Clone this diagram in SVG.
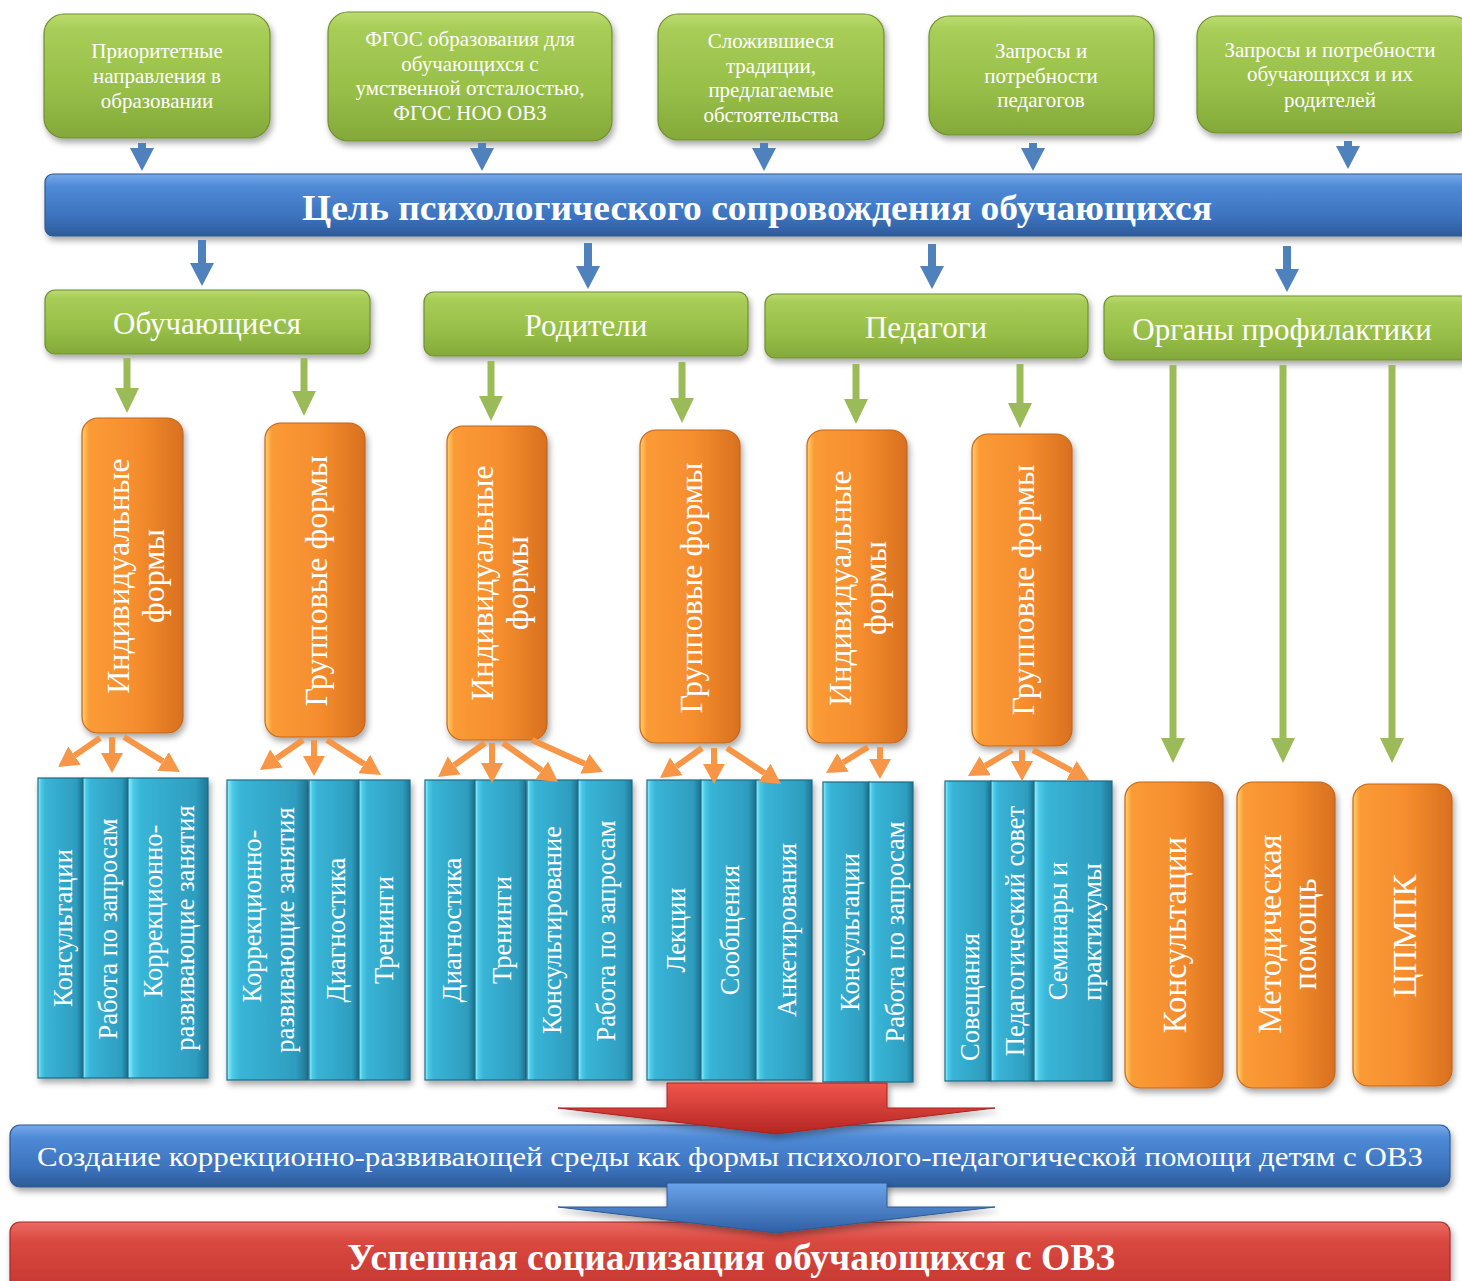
<svg xmlns="http://www.w3.org/2000/svg" width="1462" height="1281" viewBox="0 0 1462 1281">
<defs>
<linearGradient id="gGreen" x1="0" y1="0" x2="0" y2="1"><stop offset="0" stop-color="#bcdc70"/><stop offset="0.12" stop-color="#a8cd58"/><stop offset="0.6" stop-color="#97bf48"/><stop offset="1" stop-color="#84a93a"/></linearGradient>
<linearGradient id="gBlue" x1="0" y1="0" x2="0" y2="1"><stop offset="0" stop-color="#78a9ea"/><stop offset="0.2" stop-color="#4f8ad6"/><stop offset="0.7" stop-color="#3c72bd"/><stop offset="1" stop-color="#2d5b98"/></linearGradient>
<linearGradient id="gRed" x1="0" y1="0" x2="0" y2="1"><stop offset="0" stop-color="#ec6a63"/><stop offset="0.25" stop-color="#d9483f"/><stop offset="1" stop-color="#c0332d"/></linearGradient>
<linearGradient id="gOrange" x1="0" y1="0" x2="1" y2="0"><stop offset="0" stop-color="#ffd06c"/><stop offset="0.07" stop-color="#fb9b36"/><stop offset="0.55" stop-color="#f58d2e"/><stop offset="1" stop-color="#d8701f"/></linearGradient>
<linearGradient id="gTeal" x1="0" y1="0" x2="1" y2="0"><stop offset="0" stop-color="#92f2ff"/><stop offset="0.07" stop-color="#4ccae8"/><stop offset="0.16" stop-color="#39b5d7"/><stop offset="0.85" stop-color="#2e9dbf"/><stop offset="1" stop-color="#1e7693"/></linearGradient>
<linearGradient id="gRedArrow" x1="0" y1="0" x2="0" y2="1"><stop offset="0" stop-color="#f0554c"/><stop offset="1" stop-color="#b52523"/></linearGradient>
<linearGradient id="gBlueArrow" x1="0" y1="0" x2="0" y2="1"><stop offset="0" stop-color="#6aa3ea"/><stop offset="1" stop-color="#2e5fa4"/></linearGradient>
<filter id="sh" x="-10%" y="-10%" width="130%" height="130%"><feDropShadow dx="2" dy="4" stdDeviation="3" flood-color="#000" flood-opacity="0.35"/></filter>
<marker id="mBlue" markerUnits="userSpaceOnUse" markerWidth="24" markerHeight="26" viewBox="0 -13 24 26" refX="0" refY="0" orient="auto"><path d="M0,-12 L23,0 L0,12 Z" fill="#4f81bd"/></marker>
<marker id="mGreen" markerUnits="userSpaceOnUse" markerWidth="26" markerHeight="26" viewBox="0 -13 26 26" refX="0" refY="0" orient="auto"><path d="M0,-12 L25,0 L0,12 Z" fill="#9bbb59"/></marker>
<marker id="mOrange" markerUnits="userSpaceOnUse" markerWidth="22" markerHeight="24" viewBox="0 -12 22 24" refX="0" refY="0" orient="auto"><path d="M0,-11 L20,0 L0,11 Z" fill="#f79646"/></marker>
<style>
.green{fill:url(#gGreen);stroke:#6f8f2e;stroke-width:1.2;filter:url(#sh)}
.blue{fill:url(#gBlue);stroke:#2c5a90;stroke-width:1.2;filter:url(#sh)}
.red{fill:url(#gRed);stroke:#a52a26;stroke-width:1.2;filter:url(#sh)}
.orange{fill:url(#gOrange);stroke:#c4661a;stroke-width:1.2;filter:url(#sh)}
.teal{fill:url(#gTeal);stroke:#1d6c86;stroke-width:1.2;filter:url(#sh)}
text{font-family:"Liberation Serif","Times New Roman",serif;fill:#ffffff;text-anchor:middle}
.t20{font-size:21px}
.t29{font-size:31px}
.t30{font-size:32px}
.t33{font-size:33px}
.t23{font-size:26.5px}
.ab{stroke:#4f81bd;stroke-width:8;fill:none;marker-end:url(#mBlue)}
.ag{stroke:#9bbb59;stroke-width:7;fill:none;marker-end:url(#mGreen)}
.ao{stroke:#f79646;stroke-width:6;fill:none;marker-end:url(#mOrange)}
</style>
</defs>
<rect width="1462" height="1281" fill="#ffffff"/>

<!-- top source boxes -->
<g id="src1"><rect class="green" x="44" y="14" width="226" height="124" rx="20"/>
<text class="t20" x="157" y="58">Приоритетные</text><text class="t20" x="157" y="83">направления в</text><text class="t20" x="157" y="108">образовании</text></g>
<g id="src2"><rect class="green" x="328" y="12" width="284" height="129" rx="20"/>
<text class="t20" x="470" y="46">ФГОС образования для</text><text class="t20" x="470" y="71">обучающихся с</text><text class="t20" x="470" y="95">умственной отсталостью,</text><text class="t20" x="470" y="120">ФГОС НОО ОВЗ</text></g>
<g id="src3"><rect class="green" x="658" y="14" width="226" height="126" rx="20"/>
<text class="t20" x="771" y="48">Сложившиеся</text><text class="t20" x="771" y="73">традиции,</text><text class="t20" x="771" y="97">предлагаемые</text><text class="t20" x="771" y="122">обстоятельства</text></g>
<g id="src4"><rect class="green" x="929" y="16" width="225" height="119" rx="20"/>
<text class="t20" x="1041" y="58">Запросы и</text><text class="t20" x="1041" y="83">потребности</text><text class="t20" x="1041" y="107">педагогов</text></g>
<g id="src5"><rect class="green" x="1197" y="16" width="275" height="117" rx="20"/>
<text class="t20" x="1330" y="57">Запросы и потребности</text><text class="t20" x="1330" y="81">обучающихся и их</text><text class="t20" x="1330" y="107">родителей</text></g>

<!-- goal bar -->
<g id="goal"><rect class="blue" x="45" y="174" width="1430" height="62" rx="8"/>
<text x="757" y="220" font-size="36" font-weight="bold" textLength="910" lengthAdjust="spacingAndGlyphs">Цель психологического сопровождения обучающихся</text></g>

<!-- categories -->
<g id="cat1"><rect class="green" x="45" y="290" width="325" height="64" rx="10"/><text class="t29" x="207" y="334">Обучающиеся</text></g>
<g id="cat2"><rect class="green" x="424" y="292" width="324" height="64" rx="10"/><text class="t29" x="586" y="336">Родители</text></g>
<g id="cat3"><rect class="green" x="765" y="294" width="323" height="64" rx="10"/><text class="t29" x="926" y="338">Педагоги</text></g>
<g id="cat4"><rect class="green" x="1104" y="296" width="370" height="64" rx="10"/><text class="t29" x="1282" y="340">Органы профилактики</text></g>

<!-- orange form boxes -->
<g id="form1"><rect class="orange" x="82" y="418" width="101" height="315" rx="16"/>
<text class="t30" transform="translate(118,576) rotate(-90)" y="11">Индивидуальные</text><text class="t30" transform="translate(153,576) rotate(-90)" y="11">формы</text></g>
<g id="form2"><rect class="orange" x="265" y="423" width="100" height="314" rx="16"/>
<text class="t30" transform="translate(316,581) rotate(-90)" y="11">Групповые формы</text></g>
<g id="form3"><rect class="orange" x="447" y="426" width="100" height="314" rx="16"/>
<text class="t30" transform="translate(482,583) rotate(-90)" y="11">Индивидуальные</text><text class="t30" transform="translate(517,583) rotate(-90)" y="11">формы</text></g>
<g id="form4"><rect class="orange" x="640" y="430" width="100" height="313" rx="16"/>
<text class="t30" transform="translate(691,588) rotate(-90)" y="11">Групповые формы</text></g>
<g id="form5"><rect class="orange" x="807" y="430" width="100" height="313" rx="16"/>
<text class="t30" transform="translate(840,588) rotate(-90)" y="11">Индивидуальные</text><text class="t30" transform="translate(875,588) rotate(-90)" y="11">формы</text></g>
<g id="form6"><rect class="orange" x="972" y="434" width="100" height="312" rx="16"/>
<text class="t30" transform="translate(1023,590) rotate(-90)" y="11">Групповые формы</text></g>

<!-- teal activity columns -->
<g id="a1"><rect class="teal" x="38" y="778" width="45" height="300"/><text class="t23" transform="translate(63,928) rotate(-90)" y="9">Консультации</text></g>
<g id="a2"><rect class="teal" x="83" y="778" width="45" height="300"/><text class="t23" transform="translate(108,929) rotate(-90)" y="9">Работа по запросам</text></g>
<g id="a3"><rect class="teal" x="128" y="778" width="80" height="300"/><text class="t23" transform="translate(153,911) rotate(-90)" y="9">Коррекционно-</text><text class="t23" transform="translate(185,928) rotate(-90)" y="9">развивающие занятия</text></g>
<g id="b1"><rect class="teal" x="227" y="780" width="81" height="300"/><text class="t23" transform="translate(252,916) rotate(-90)" y="9">Коррекционно-</text><text class="t23" transform="translate(285,930) rotate(-90)" y="9">развивающие занятия</text></g>
<g id="b2"><rect class="teal" x="309" y="780" width="50" height="300"/><text class="t23" transform="translate(336,930) rotate(-90)" y="9">Диагностика</text></g>
<g id="b3"><rect class="teal" x="359" y="780" width="51" height="300"/><text class="t23" transform="translate(384,930) rotate(-90)" y="9">Тренинги</text></g>
<g id="c1"><rect class="teal" x="425" y="780" width="50" height="300"/><text class="t23" transform="translate(452,930) rotate(-90)" y="9">Диагностика</text></g>
<g id="c2"><rect class="teal" x="475" y="780" width="51" height="300"/><text class="t23" transform="translate(502,930) rotate(-90)" y="9">Тренинги</text></g>
<g id="c3"><rect class="teal" x="527" y="780" width="51" height="300"/><text class="t23" transform="translate(552,930) rotate(-90)" y="9">Консультирование</text></g>
<g id="c4"><rect class="teal" x="578" y="780" width="54" height="300"/><text class="t23" transform="translate(606,931) rotate(-90)" y="9">Работа по запросам</text></g>
<g id="d1"><rect class="teal" x="647" y="780" width="54" height="300"/><text class="t23" transform="translate(676,930) rotate(-90)" y="9">Лекции</text></g>
<g id="d2"><rect class="teal" x="701" y="780" width="55" height="300"/><text class="t23" transform="translate(730,930) rotate(-90)" y="9">Сообщения</text></g>
<g id="d3"><rect class="teal" x="756" y="780" width="56" height="300"/><text class="t23" transform="translate(787,930) rotate(-90)" y="9">Анкетирования</text></g>
<g id="e1"><rect class="teal" x="823" y="782" width="46" height="300"/><text class="t23" transform="translate(850,932) rotate(-90)" y="9">Консультации</text></g>
<g id="e2"><rect class="teal" x="869" y="782" width="44" height="300"/><text class="t23" transform="translate(895,932) rotate(-90)" y="9">Работа по запросам</text></g>
<g id="f1"><rect class="teal" x="945" y="781" width="46" height="300"/><text class="t23" transform="translate(970,997) rotate(-90)" y="9">Совещания</text></g>
<g id="f2"><rect class="teal" x="991" y="781" width="43" height="300"/><text class="t23" transform="translate(1015,931) rotate(-90)" y="9">Педагогический совет</text></g>
<g id="f3"><rect class="teal" x="1034" y="781" width="78" height="300"/><text class="t23" transform="translate(1058,931) rotate(-90)" y="9">Семинары и</text><text class="t23" transform="translate(1092,932) rotate(-90)" y="9">практикумы</text></g>

<!-- prevention outcomes -->
<g id="p1"><rect class="orange" x="1125" y="782" width="98" height="306" rx="16"/><text class="t33" transform="translate(1175,935) rotate(-90)" y="11">Консультации</text></g>
<g id="p2"><rect class="orange" x="1237" y="782" width="98" height="306" rx="16"/><text class="t33" transform="translate(1270,934) rotate(-90)" y="11">Методическая</text><text class="t33" transform="translate(1305,934) rotate(-90)" y="11">помощь</text></g>
<g id="p3"><rect class="orange" x="1353" y="784" width="99" height="302" rx="16"/><text class="t33" transform="translate(1405,936) rotate(-90)" y="11">ЦПМПК</text></g>

<!-- result bars -->
<g id="env"><rect class="blue" x="10" y="1125" width="1440" height="62" rx="10"/>
<text x="730" y="1166" font-size="27" textLength="1386" lengthAdjust="spacingAndGlyphs">Создание коррекционно-развивающей среды как формы психолого-педагогической помощи детям с ОВЗ</text></g>
<g id="result"><rect class="red" x="10" y="1222" width="1440" height="80" rx="10"/>
<text x="731" y="1270" font-size="38" font-weight="bold" textLength="768" lengthAdjust="spacingAndGlyphs">Успешная социализация обучающихся с ОВЗ</text></g>

<!-- connectors -->
<g id="connectors">
<line class="ab" x1="142" y1="143" x2="142" y2="148"/>
<line class="ab" x1="482" y1="143" x2="482" y2="148"/>
<line class="ab" x1="764" y1="143" x2="764" y2="148"/>
<line class="ab" x1="1033" y1="143" x2="1033" y2="148"/>
<line class="ab" x1="1348" y1="141" x2="1348" y2="146"/>
<line class="ab" x1="202" y1="240" x2="202" y2="263"/>
<line class="ab" x1="588" y1="243" x2="588" y2="266"/>
<line class="ab" x1="932" y1="244" x2="932" y2="266"/>
<line class="ab" x1="1287" y1="246" x2="1287" y2="269"/>
<line class="ag" x1="127" y1="358" x2="127" y2="388"/>
<line class="ag" x1="304" y1="358" x2="304" y2="391"/>
<line class="ag" x1="491" y1="361" x2="491" y2="396"/>
<line class="ag" x1="682" y1="362" x2="682" y2="398"/>
<line class="ag" x1="856" y1="364" x2="856" y2="399"/>
<line class="ag" x1="1020" y1="364" x2="1020" y2="403"/>
<line class="ag" x1="1173" y1="365" x2="1173" y2="738"/>
<line class="ag" x1="1283" y1="365" x2="1283" y2="738"/>
<line class="ag" x1="1392" y1="365" x2="1392" y2="738"/>
<line class="ao" x1="100" y1="738" x2="74.5" y2="755.6"/>
<line class="ao" x1="112" y1="737" x2="112" y2="753"/>
<line class="ao" x1="124" y1="737" x2="163" y2="761.4"/>
<line class="ao" x1="303" y1="740" x2="276.4" y2="758.5"/>
<line class="ao" x1="314" y1="740" x2="314" y2="756"/>
<line class="ao" x1="327" y1="740" x2="364.2" y2="764.1"/>
<line class="ao" x1="485" y1="743" x2="454.2" y2="765.3"/>
<line class="ao" x1="492" y1="743" x2="492" y2="763"/>
<line class="ao" x1="503" y1="743" x2="541.7" y2="770.4"/>
<line class="ao" x1="532" y1="740" x2="584.8" y2="763.8"/>
<line class="ao" x1="702" y1="748" x2="676.3" y2="766.4"/>
<line class="ao" x1="714" y1="748" x2="714" y2="764"/>
<line class="ao" x1="727" y1="748" x2="764.4" y2="772.9"/>
<line class="ao" x1="868" y1="747" x2="843" y2="762.5"/>
<line class="ao" x1="880" y1="747" x2="880" y2="759"/>
<line class="ao" x1="1012" y1="750" x2="985.2" y2="765.8"/>
<line class="ao" x1="1022" y1="750" x2="1022" y2="761"/>
<line class="ao" x1="1033" y1="750" x2="1071.4" y2="770.6"/>
<polygon points="667,1083 887,1083 887,1108 995,1108 776,1134 558,1108 667,1108" fill="url(#gRedArrow)" stroke="#a82220" stroke-width="1" filter="url(#sh)"/>
<polygon points="667,1183 887,1183 887,1207 995,1207 776,1233 558,1207 667,1207" fill="url(#gBlueArrow)" stroke="#2c5a90" stroke-width="1" filter="url(#sh)"/>
</g>
</svg>
